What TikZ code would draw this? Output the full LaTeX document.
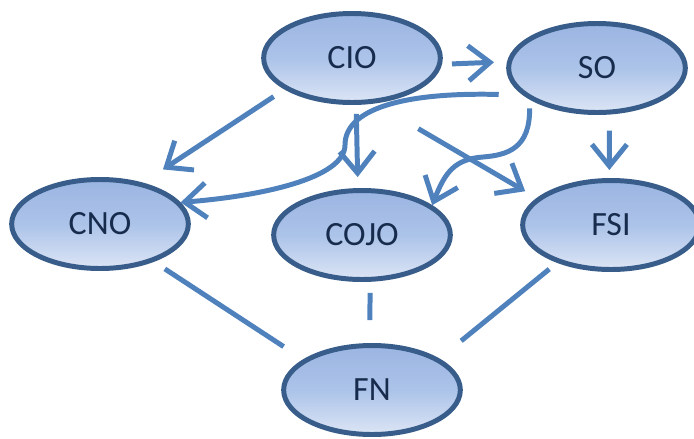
\documentclass[tikz,border=0pt]{standalone}
\usepackage{fontspec}
\setmainfont{Carlito}
\usetikzlibrary{arrows.meta,shapes.geometric}
\definecolor{linkblue}{RGB}{79,129,189}
\definecolor{rimblue}{RGB}{56,93,138}
\definecolor{topblue}{RGB}{155,181,226}
\definecolor{midblue}{RGB}{172,195,233}
\definecolor{lowblue}{RGB}{220,229,245}
\definecolor{inkblue}{RGB}{23,43,77}

\begin{document}
\begin{tikzpicture}[x=0.03cm,y=-0.03cm]
\useasboundingbox (0,0) rectangle (694,438);
\begin{scope}[every node/.style={ellipse,draw=rimblue,line width=4.25pt,
      top color=topblue,bottom color=lowblue,middle color=midblue,
      minimum width=5.3cm,minimum height=2.67cm,text=inkblue,
      font=\fontsize{29}{34}\selectfont}]
    \node (cio)  at (352,58)  {CIO};
    \node (so)   at (597,68)  {SO};
    \node (cno)  at (100,224) {CNO};
    \node (cojo) at (362,235) {COJO};
    \node (fsi)  at (611,225) {FSI};
    \node (fn)   at (372,390) {FN};
\end{scope}
\begin{scope}[>={Straight Barb[length=6.5mm,width=10.5mm,line width=4.25pt]},
              every edge/.style={draw=linkblue,line width=4.25pt}]
    % arrows
    \path [->] (cio.-4) edge[shorten <=0.3cm,shorten >=0.39cm] (so.176);
    \path [->] (cio.205) edge[shorten <=0.39cm,shorten >=0.72cm] (cno.44);
    \path [->] (cio.-85) edge[shorten <=0.27cm,shorten >=0.33cm] (cojo.95);
    \path [->] (cio.-63) edge[shorten <=1.5cm,shorten >=0.4cm] (fsi.160);
    \path [->] (so.-75) edge[shorten <=0.48cm,shorten >=0.24cm] (fsi.92);
    \draw [->,draw=linkblue,line width=4.25pt,shorten <=0.72cm]
        (so.200) .. controls (400,92) and (345,110) .. (345,145)
                 .. controls (345,178) and (262,196) .. (cno.15);
    \draw [->,draw=linkblue,line width=4.25pt,shorten <=0.27cm]
        (so.205) .. controls (530,148) and (508,155) .. (483,157)
                 .. controls (455,159) and (445,172) .. (cojo.23);
    % lines to FN
    \path (cno.-35) edge[shorten <=0.39cm,shorten >=0.7cm] (fn.156);
    \path (cojo.-80) edge[shorten <=0.33cm,shorten >=0.69cm] (fn.93);
    \path (fsi.215) edge[shorten <=0.3cm,shorten >=0.84cm] (fn.25);
\end{scope}
\end{tikzpicture}
\end{document}
